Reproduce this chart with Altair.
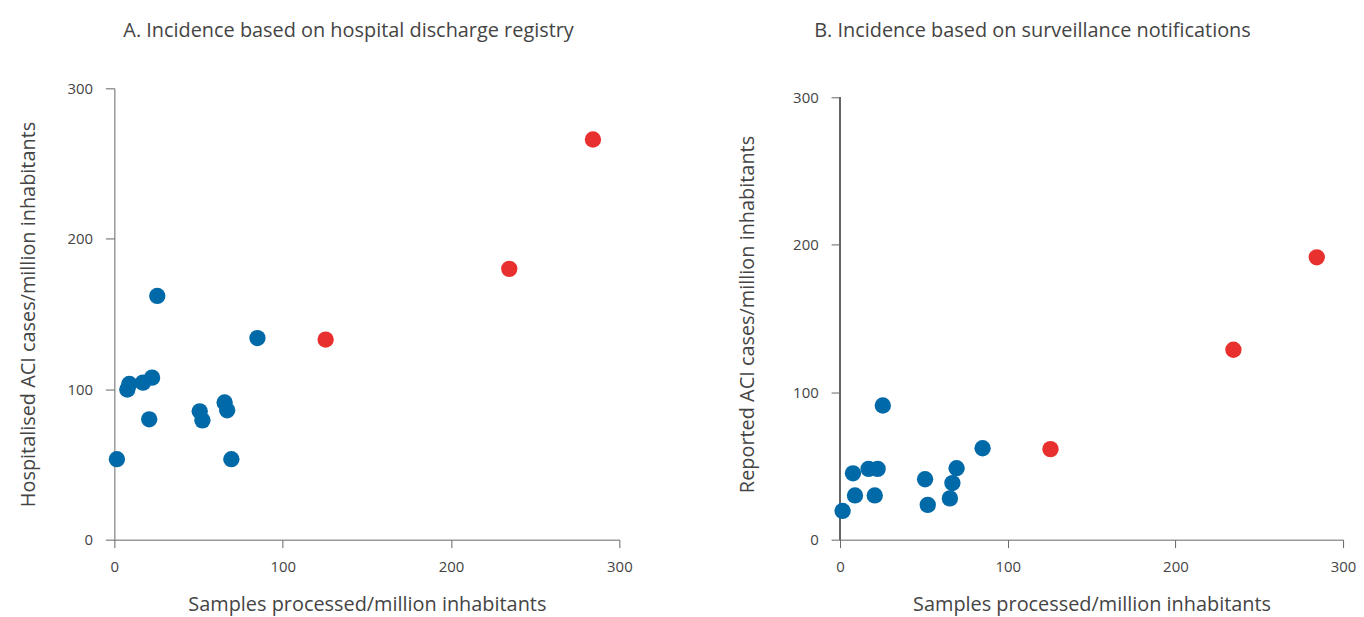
import altair as alt
import pandas as pd

# Shared x values: samples processed per million inhabitants
samples = [1.5, 7.7, 8.9, 17.0, 22.4, 20.7, 25.5, 50.7, 52.3, 65.5, 67.0, 69.5, 85.0, 125.5, 234.6, 284.3]
# Panel A: hospitalised ACI cases per million
hospitalised = [53.5, 99.8, 103.5, 104.4, 107.7, 80.0, 162.0, 85.3, 79.3, 91.2, 86.0, 53.5, 134.0, 133.0, 180.0, 266.0]
# Panel B: reported ACI cases per million
reported = [19.5, 45.0, 30.0, 48.0, 48.0, 30.0, 91.0, 41.0, 23.6, 28.0, 38.4, 48.5, 62.0, 61.4, 128.8, 191.5]
group = ["blue"] * 13 + ["red"] * 3
tick_values = [0, 100, 200, 300]

df = pd.DataFrame({"samples": samples, "hosp": hospitalised, "rep": reported, "group": group})

FONT = "Open Sans"
AX = "#666666"
TXT = "#444444"

color = alt.Color("group:N", scale=alt.Scale(domain=["blue", "red"], range=["#0069A8", "#E8312F"]), legend=None)

def axis_x():
    return alt.Axis(values=tick_values, grid=False, domainColor=AX, tickColor=AX, tickSize=8,
                    labelColor=TXT, labelFontSize=15, labelFont=FONT, labelPadding=12, labelFlush=False,
                    titleFont=FONT, titleFontSize=20, titleFontWeight="normal", titleColor=TXT, titlePadding=20)

def axis_y(tp, domain=True):
    return alt.Axis(values=tick_values, grid=False, domain=domain, domainColor=AX, tickColor=AX, tickSize=9,
                    labelColor=TXT, labelFontSize=15, labelFont=FONT, labelPadding=13, labelFlush=False,
                    titleFont=FONT, titleFontSize=20, titleFontWeight="normal", titleColor=TXT, titlePadding=tp)

def title(text, dx, offset):
    return alt.TitleParams(text, anchor="start", frame="group", dx=dx, offset=offset,
                           font=FONT, fontSize=20, fontWeight="normal", color=TXT)

a = alt.Chart(df).mark_circle(size=270, opacity=1).encode(
    x=alt.X("samples:Q", title="Samples processed/million inhabitants", scale=alt.Scale(domain=[0, 300], nice=False), axis=axis_x()),
    y=alt.Y("hosp:Q", title="Hospitalised ACI cases/million inhabitants", scale=alt.Scale(domain=[0, 300], nice=False), axis=axis_y(29)),
    color=color,
).properties(width=508, height=454, title=title("A. Incidence based on hospital discharge registry", 9, 41))

b_points = alt.Chart(df).mark_circle(size=270, opacity=1).encode(
    x=alt.X("samples:Q", title="Samples processed/million inhabitants", scale=alt.Scale(domain=[0, 300], nice=False), axis=axis_x()),
    y=alt.Y("rep:Q", title="Reported ACI cases/million inhabitants", scale=alt.Scale(domain=[0, 306.1], nice=False), axis=axis_y(35, domain=False)),
    color=color,
)
b_axisline = alt.Chart(df).mark_rule(color=AX, strokeWidth=1).encode(
    x=alt.datum(0), y=alt.datum(0), y2=alt.datum(300)
)
b = alt.layer(b_axisline, b_points).properties(
    width=506, height=454, title=title("B. Incidence based on surveillance notifications", -26, 48))

chart = alt.hconcat(a, b, spacing=106).configure_view(strokeWidth=0).properties(
    padding={"left": 10, "top": 11, "right": 0, "bottom": 5}, background="white")

chart.save("out.html", embed_options={"renderer": "svg", "actions": False})
